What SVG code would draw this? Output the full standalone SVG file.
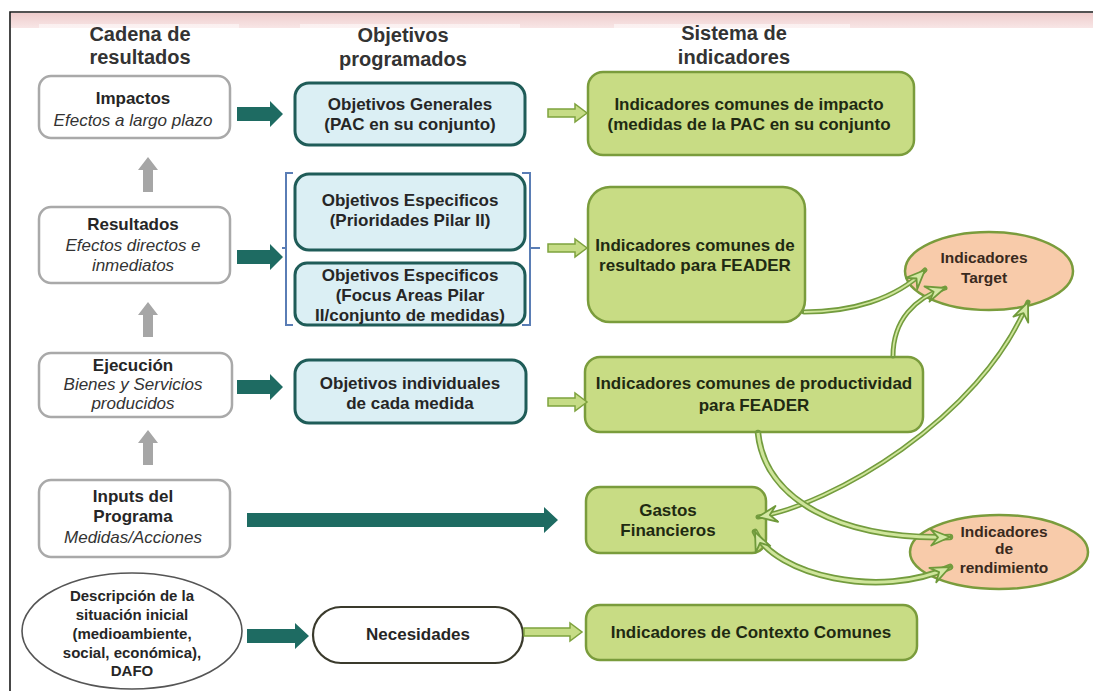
<svg xmlns="http://www.w3.org/2000/svg" width="1093" height="691" viewBox="0 0 1093 691">
<style>
  text { font-family: "Liberation Sans", Arial, sans-serif; }
  .hdr { font-size: 20px; font-weight: bold; fill: #333; text-anchor: middle; }
  .b17 { font-size: 17px; font-weight: bold; fill: #262626; text-anchor: middle; }
  .i17 { font-size: 17px; font-style: italic; fill: #333; text-anchor: middle; }
  .g17 { font-size: 17px; font-weight: bold; fill: #1f2a12; text-anchor: middle; }
  .p15 { font-size: 15.5px; font-weight: bold; fill: #3a2a1e; text-anchor: middle; }
  .e15 { font-size: 15px; font-weight: bold; fill: #262626; text-anchor: middle; }
  .wbox { fill: #ffffff; stroke: #a9a9a9; stroke-width: 2.5; }
  .bbox { fill: #dbeff4; stroke: #1f5c58; stroke-width: 3; }
  .gbox { fill: #c8dc84; stroke: #7a9c3c; stroke-width: 2.5; }
  .peach { fill: #f8cbaa; stroke: #7a9c3c; stroke-width: 2.5; }
  .teal { fill: #1e6b62; }
  .grey { fill: #a6a6a6; }
  .lg { fill: #c6dc86; stroke: #7ea23e; stroke-width: 1.5; }
  .bracket { fill: none; stroke: #5a7db5; stroke-width: 2; }
  .outer { fill: none; stroke: #739c3e; stroke-width: 5; stroke-linecap: round; }
  .outer.wide { stroke-width: 6.5; }
  .inner { fill: none; stroke: #cfe59b; stroke-width: 1.8; }
  .inner.wide { stroke-width: 3; }
</style>
<defs>
  <linearGradient id="band" x1="0" y1="0" x2="0" y2="1">
    <stop offset="0" stop-color="#eecccc"/>
    <stop offset="1" stop-color="#f8e6e6"/>
  </linearGradient>
  <path id="tealArrow" d="M0,-7 H33 V-13 L46,0 L33,13 V7 H0 Z"/>
  <path id="greyArrow" d="M0,0 L10,13 L5,13 L5,35 L-5,35 L-5,13 L-10,13 Z"/>
  <path id="lgArrow" d="M0,-4 H27 V-9 L39,0 L27,9 V4 H0 Z"/>
  <marker id="ah" viewBox="-22 -10 24 20" refX="0" refY="0" markerWidth="24" markerHeight="20" markerUnits="userSpaceOnUse" orient="auto-start-reverse">
    <path d="M0,0 L-19,-8 L-12,0 L-19,8 Z" fill="#d4e8a4" stroke="#6f9a3a" stroke-width="1.8" stroke-linejoin="round"/>
  </marker>
</defs>

<rect x="0" y="0" width="1093" height="691" fill="#ffffff"/>
<rect x="11" y="13" width="1082" height="15" fill="url(#band)"/>
<rect x="39" y="24" width="200" height="4" fill="#ffffff" opacity="0.5"/>
<rect x="300" y="24" width="220" height="4" fill="#ffffff" opacity="0.5"/>
<rect x="614" y="24" width="236" height="4" fill="#ffffff" opacity="0.5"/>
<path d="M10,691 V12 H1093" fill="none" stroke="#1a1a1a" stroke-width="1.6"/>

<g id="headers">
  <text class="hdr" x="140" y="41">Cadena de</text>
  <text class="hdr" x="140" y="64">resultados</text>
  <text class="hdr" x="403" y="42">Objetivos</text>
  <text class="hdr" x="403" y="66">programados</text>
  <text class="hdr" x="734" y="40">Sistema de</text>
  <text class="hdr" x="734" y="64">indicadores</text>
</g>

<g id="impactos">
  <rect class="wbox" x="39" y="76" width="191" height="62" rx="12"/>
  <text class="b17" x="133" y="104">Impactos</text>
  <text class="i17" x="133" y="126">Efectos a largo plazo</text>
</g>
<g id="resultados">
  <rect class="wbox" x="39" y="207" width="191" height="76" rx="12"/>
  <text class="b17" x="133" y="230">Resultados</text>
  <text class="i17" x="133" y="251">Efectos directos e</text>
  <text class="i17" x="133" y="271">inmediatos</text>
</g>
<g id="ejecucion">
  <rect class="wbox" x="39" y="353" width="193" height="64" rx="12"/>
  <text class="b17" x="133" y="371">Ejecución</text>
  <text class="i17" x="133" y="390">Bienes y Servicios</text>
  <text class="i17" x="133" y="409">producidos</text>
</g>
<g id="inputs">
  <rect class="wbox" x="39" y="480" width="191" height="77" rx="12"/>
  <text class="b17" x="133" y="502">Inputs del</text>
  <text class="b17" x="133" y="522">Programa</text>
  <text class="i17" x="133" y="543">Medidas/Acciones</text>
</g>
<g id="descripcion">
  <ellipse cx="132" cy="631" rx="110" ry="58" fill="#ffffff" stroke="#555" stroke-width="1.6"/>
  <text class="e15" x="132" y="601">Descripción de la</text>
  <text class="e15" x="132" y="620">situación inicial</text>
  <text class="e15" x="132" y="639">(medioambiente,</text>
  <text class="e15" x="132" y="658">social, económica),</text>
  <text class="e15" x="132" y="676">DAFO</text>
</g>

<g id="obj-generales">
  <rect class="bbox" x="295" y="83" width="230" height="62" rx="14"/>
  <text class="b17" x="410" y="110">Objetivos Generales</text>
  <text class="b17" x="410" y="130">(PAC en su conjunto)</text>
</g>
<g id="obj-especificos-1">
  <rect class="bbox" x="295" y="174" width="230" height="76" rx="14"/>
  <text class="b17" x="410" y="206">Objetivos Especificos</text>
  <text class="b17" x="410" y="226">(Prioridades Pilar II)</text>
</g>
<g id="obj-especificos-2">
  <rect class="bbox" x="295" y="263" width="230" height="62" rx="12"/>
  <text class="b17" x="410" y="281">Objetivos Especificos</text>
  <text class="b17" x="410" y="301">(Focus Areas Pilar</text>
  <text class="b17" x="410" y="321">II/conjunto de medidas)</text>
</g>
<g id="obj-individuales">
  <rect class="bbox" x="295" y="360" width="231" height="63" rx="14"/>
  <text class="b17" x="410" y="389">Objetivos individuales</text>
  <text class="b17" x="410" y="409">de cada medida</text>
</g>
<g id="necesidades">
  <rect x="313" y="607" width="210" height="56" rx="28" fill="#ffffff" stroke="#3a3a2c" stroke-width="2.2"/>
  <text class="b17" x="418" y="640">Necesidades</text>
</g>

<g id="ind-impacto">
  <rect class="gbox" x="588" y="72" width="326" height="83" rx="15"/>
  <text class="g17" x="749" y="110">Indicadores comunes de impacto</text>
  <text class="g17" x="749" y="130">(medidas de la PAC en su conjunto</text>
</g>
<g id="ind-resultado">
  <rect class="gbox" x="588" y="187" width="217" height="135" rx="22"/>
  <text class="g17" x="695" y="251">Indicadores comunes de</text>
  <text class="g17" x="695" y="271">resultado para FEADER</text>
</g>
<g id="ind-productividad">
  <rect class="gbox" x="585" y="357" width="338" height="75" rx="15"/>
  <text class="g17" x="754" y="389">Indicadores comunes de productividad</text>
  <text class="g17" x="754" y="411">para FEADER</text>
</g>
<g id="gastos">
  <rect class="gbox" x="586" y="487" width="180" height="66" rx="14"/>
  <text class="g17" x="668" y="516">Gastos</text>
  <text class="g17" x="668" y="536">Financieros</text>
</g>
<g id="ind-contexto">
  <rect class="gbox" x="586" y="605" width="331" height="55" rx="14"/>
  <text class="g17" x="751" y="638">Indicadores de Contexto Comunes</text>
</g>
<g id="ind-target">
  <ellipse class="peach" cx="989" cy="271" rx="84" ry="39"/>
  <text class="p15" x="984" y="263">Indicadores</text>
  <text class="p15" x="984" y="283">Target</text>
</g>
<g id="ind-rendimiento">
  <ellipse class="peach" cx="999" cy="552" rx="89" ry="37"/>
  <text class="p15" x="1004" y="537">Indicadores</text>
  <text class="p15" x="1004" y="554">de</text>
  <text class="p15" x="1004" y="573">rendimiento</text>
</g>

<g id="connectors">
  <use href="#tealArrow" class="teal" x="237" y="114"/>
  <use href="#tealArrow" class="teal" x="237" y="257"/>
  <use href="#tealArrow" class="teal" x="237" y="387"/>
  <path class="teal" d="M247,513 H544 V507 L558,520 L544,533 V527 H247 Z"/>
  <path class="teal" d="M247,629 H295 V623 L309,636 L295,649 V643 H247 Z"/>
  <use href="#greyArrow" class="grey" x="148" y="157"/>
  <use href="#greyArrow" class="grey" x="148" y="302"/>
  <use href="#greyArrow" class="grey" x="148" y="430"/>
  <use href="#lgArrow" class="lg" x="548" y="113"/>
  <use href="#lgArrow" class="lg" x="548" y="248"/>
  <use href="#lgArrow" class="lg" x="548" y="402"/>
  <path class="lg" d="M524,628 H570 V623 L582,632 L570,641 V636 H524 Z"/>
  <path class="bracket" d="M293,173 H286 V325 H293 M286,248 H282"/>
  <path class="bracket" d="M522,173 H530 V325 H522 M530,248 H540"/>
  <path class="outer" d="M804,312 C850,312 895,300 925,270"/>
  <path class="inner" d="M804,312 C850,312 895,300 925,270" marker-end="url(#ah)"/>
  <path class="outer" d="M893,356 C893,320 915,298 945,288"/>
  <path class="inner" d="M893,356 C893,320 915,298 945,288" marker-end="url(#ah)"/>
  <path class="outer" d="M758,517 C830,505 980,420 1028,302"/>
  <path class="inner" d="M758,517 C830,505 980,420 1028,302" marker-start="url(#ah)" marker-end="url(#ah)"/>
  <path class="outer wide" d="M758,433 C765,500 840,540 950,537"/>
  <path class="inner wide" d="M758,433 C765,500 840,540 950,537" marker-end="url(#ah)"/>
  <path class="outer wide" d="M755,532 C775,575 880,600 950,567"/>
  <path class="inner wide" d="M755,532 C775,575 880,600 950,567" marker-start="url(#ah)" marker-end="url(#ah)"/>
</g>
</svg>
